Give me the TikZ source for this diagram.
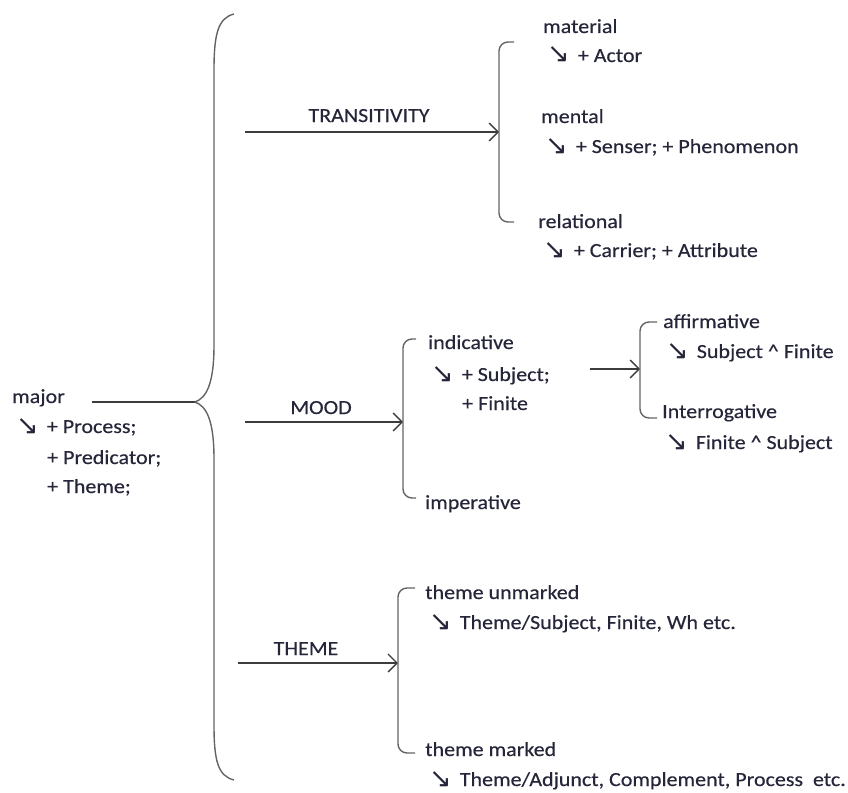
\documentclass[tikz,border=0pt]{standalone}
\usepackage{fontspec}
\usepackage{tikz}
\usetikzlibrary{arrows.meta}
\setmainfont{Carlito}[FakeStretch=1.1, FakeBold=0.4]
\newfontfamily\arrowfont{DejaVu Sans}

\definecolor{txtcol}{RGB}{38,38,58}
\definecolor{lncol}{RGB}{60,60,60}
\definecolor{brkcol}{RGB}{100,100,100}

\newcommand{\arw}{\hspace{-2pt}{\arrowfont\fontsize{27}{28}\selectfont\raisebox{-1pt}{\symbol{"2198}}}\hspace{8pt}}

\tikzset{
  lbl/.style={anchor=base west, inner sep=0pt, text=txtcol,
    font=\fontsize{20}{24}\selectfont},
  sysname/.style={lbl, anchor=base},
  brk/.style={draw=brkcol, line width=1.4pt, rounded corners=9pt},
  sysarrow/.style={draw=lncol, line width=1.3pt,
    -{Straight Barb[length=9pt,width=18pt]}},
}

\begin{document}
\begin{tikzpicture}[x=1pt,y=-1pt]
\useasboundingbox (0,0) rectangle (848,792);

% entry condition
\node[lbl] (major) at (12,403) {major};
\node[lbl] (majF1) at (18,433) {\arw+ Process;};
\node[lbl] (majF2) at (47,464) {+ Predicator;};
\node[lbl] (majF3) at (47,493) {+ Theme;};

% big brace
\coordinate (braceTip) at (195,402);
\coordinate (majEnd) at (92,402);
\draw[draw=brkcol, line width=1.4pt]
  (234,14) .. controls (218,18) and (214,34) .. (214,70)
  -- (214,345) .. controls (214,385) and (206,398) .. (braceTip)
  .. controls (206,406) and (214,419) .. (214,459)
  -- (214,725) .. controls (214,761) and (218,776) .. (234,780);
\draw[draw=lncol, line width=1.3pt] (majEnd) -- (braceTip);

% systems
\coordinate (trFrom) at (245,132);
\coordinate (trTo) at (499,132);
\coordinate (moFrom) at (245,422);
\coordinate (moTo) at (403,422);
\coordinate (thFrom) at (238,663);
\coordinate (thTo) at (398,663);
\draw[sysarrow] (trFrom) -- (trTo);
\draw[sysarrow] (moFrom) -- (moTo);
\draw[sysarrow] (thFrom) -- (thTo);
\node[sysname] (trans) at (369,122) {TRANSITIVITY};
\node[sysname] (mood) at (321,414) {MOOD};
\node[sysname] (theme) at (306,655) {THEME};

% TRANSITIVITY
\draw[brk] (514,42) -- (trTo |- 0,42) -- (trTo |- 0,222) -- (514,222);
\node[lbl] (material) at (543,33) {material};
\node[lbl] (matF) at (549,62) {\arw+ Actor};
\node[lbl] (mental) at (541,123) {mental};
\node[lbl] (menF) at (547,153) {\arw+ Senser; + Phenomenon};
\node[lbl] (relational) at (538,228) {relational};
\node[lbl] (relF) at (545,257) {\arw+ Carrier; + Attribute};

% MOOD
\draw[brk] (416,339) -- (moTo |- 0,339) -- (moTo |- 0,498) -- (416,498);
\node[lbl] (indicative) at (428,349) {indicative};
\node[lbl] (indF1) at (433,381) {\arw+ Subject;};
\node[lbl] (indF2) at (462,410) {+ Finite};
\node[lbl] (imperative) at (425,509) {imperative};

\coordinate (indFrom) at (590,369);
\coordinate (indTo) at (640,369);
\draw[sysarrow] (indFrom) -- (indTo);
\draw[brk] (657,322) -- (indTo |- 0,322) -- (indTo |- 0,418) -- (657,418);
\node[lbl] (affirmative) at (663,328) {affirmative};
\node[lbl] (affF) at (668,358) {\arw Subject \^{} Finite};
\node[lbl] (interrogative) at (662,418) {Interrogative};
\node[lbl] (intF) at (667,449) {\arw Finite \^{} Subject};

% THEME
\draw[brk] (415,588) -- (thTo |- 0,588) -- (thTo |- 0,753) -- (415,753);
\node[lbl] (unmarked) at (425,599) {theme unmarked};
\node[lbl] (unmF) at (431,629) {\arw Theme/Subject, Finite, Wh etc.};
\node[lbl] (marked) at (425,756) {theme marked};
\node[lbl] (marF) at (431,786) {\arw Theme/Adjunct, Complement, Process\ \ etc.};
\end{tikzpicture}
\end{document}
